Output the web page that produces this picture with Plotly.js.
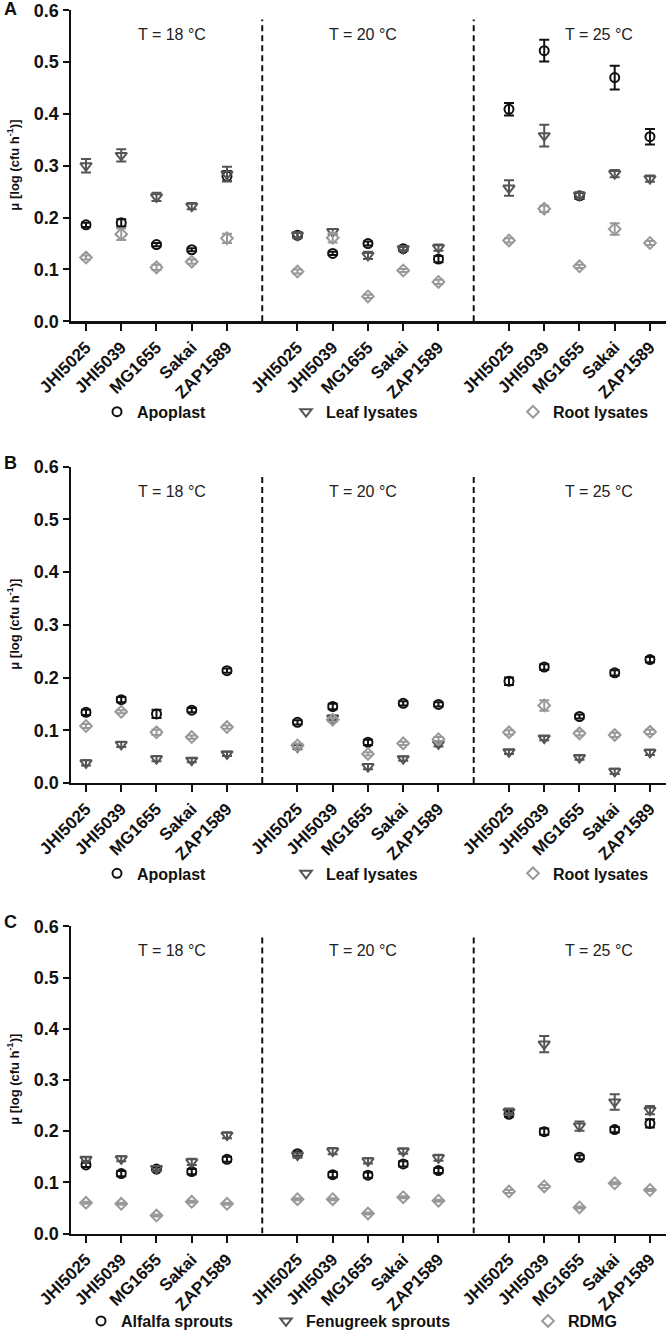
<!DOCTYPE html>
<html>
<head>
<meta charset="utf-8">
<script src="https://cdn.plot.ly/plotly-3.0.1.min.js"></script>
<style>
  html, body { margin: 0; padding: 0; background: #fff; }
  #myDiv { width: 666px; height: 1338px; }
</style>
</head>
<body>
<div id="myDiv"></div>
<script>
let strains = ['JHI5025', 'JHI5039', 'MG1655', 'Sakai', 'ZAP1589'];
let temps = ['T = 18 °C', 'T = 20 °C', 'T = 25 °C'];
let panelLetters = ['A', 'B', 'C'];
let yTicks = [0, 0.1, 0.2, 0.3, 0.4, 0.5, 0.6];

// panel A (18, 20, 25 °C, 5 strains each)
let apoplastA = [0.186, 0.190, 0.148, 0.138, 0.280, 0.166, 0.131, 0.150, 0.140, 0.120, 0.409, 0.522, 0.242, 0.470, 0.356];
let apoplastAErr = [0.004, 0.007, 0.003, 0.003, 0.010, 0.005, 0.003, 0.004, 0.004, 0.006, 0.012, 0.021, 0.006, 0.023, 0.015];
let leafA = [0.300, 0.320, 0.240, 0.222, 0.284, 0.166, 0.173, 0.127, 0.140, 0.142, 0.257, 0.358, 0.243, 0.285, 0.275];
let leafAErr = [0.013, 0.012, 0.008, 0.006, 0.014, 0.006, 0.005, 0.007, 0.004, 0.006, 0.015, 0.021, 0.006, 0.007, 0.006];
let rootA = [0.123, 0.168, 0.104, 0.115, 0.160, 0.096, 0.161, 0.048, 0.098, 0.076, 0.156, 0.217, 0.106, 0.178, 0.151];
let rootAErr = [0.004, 0.011, 0.005, 0.004, 0.009, 0.004, 0.009, 0.003, 0.003, 0.004, 0.004, 0.006, 0.003, 0.011, 0.004];

// panel B
let apoplastB = [0.134, 0.158, 0.131, 0.138, 0.213, 0.115, 0.145, 0.077, 0.151, 0.149, 0.193, 0.220, 0.126, 0.209, 0.234];
let apoplastBErr = [0.005, 0.005, 0.008, 0.004, 0.004, 0.004, 0.005, 0.005, 0.004, 0.004, 0.007, 0.005, 0.004, 0.005, 0.005];
let leafB = [0.038, 0.073, 0.046, 0.043, 0.055, 0.068, 0.123, 0.031, 0.046, 0.074, 0.059, 0.085, 0.048, 0.022, 0.058];
let leafBErr = [0.005, 0.005, 0.005, 0.004, 0.004, 0.004, 0.005, 0.005, 0.004, 0.005, 0.004, 0.004, 0.004, 0.005, 0.005];
let rootB = [0.108, 0.135, 0.096, 0.087, 0.106, 0.071, 0.120, 0.055, 0.075, 0.083, 0.096, 0.147, 0.094, 0.091, 0.097];
let rootBErr = [0.004, 0.003, 0.005, 0.003, 0.003, 0.004, 0.004, 0.003, 0.003, 0.004, 0.004, 0.010, 0.004, 0.004, 0.004];

// panel C
let alfalfaC = [0.134, 0.117, 0.126, 0.121, 0.145, 0.156, 0.115, 0.114, 0.136, 0.123, 0.233, 0.199, 0.149, 0.203, 0.215];
let alfalfaCErr = [0.004, 0.005, 0.003, 0.005, 0.005, 0.004, 0.005, 0.005, 0.005, 0.005, 0.005, 0.006, 0.004, 0.005, 0.008];
let fenugreekC = [0.145, 0.146, 0.127, 0.140, 0.192, 0.153, 0.161, 0.142, 0.161, 0.148, 0.238, 0.370, 0.210, 0.257, 0.241];
let fenugreekCErr = [0.004, 0.005, 0.005, 0.006, 0.006, 0.005, 0.006, 0.005, 0.005, 0.006, 0.006, 0.016, 0.009, 0.015, 0.008];
let rdmgC = [0.060, 0.058, 0.035, 0.062, 0.058, 0.067, 0.067, 0.039, 0.071, 0.064, 0.082, 0.092, 0.051, 0.098, 0.085];
let rdmgCErr = [0.002, 0.002, 0.002, 0.002, 0.002, 0.002, 0.002, 0.002, 0.002, 0.002, 0.003, 0.003, 0.002, 0.002, 0.002];

let FONT = 'Arial, "Liberation Sans", sans-serif';

// x position of every strain inside each temperature group (one empty slot between groups)
let xPos = [];
let tickVals = [];
let tickText = [];
temps.forEach((t, g) => {
    strains.forEach((s, i) => {
        xPos.push(g * 6 + i);
        tickVals.push(g * 6 + i);
        tickText.push(s);
    });
});

let styles = [
    { symbol: 'circle-open', color: '#111111', size: 9 },
    { symbol: 'triangle-down-open', color: '#555555', size: 10 },
    { symbol: 'diamond-open', color: '#999999', size: 9 }
];

let panels = [
    { names: ['Apoplast', 'Leaf lysates', 'Root lysates'], ys: [apoplastA, leafA, rootA], errs: [apoplastAErr, leafAErr, rootAErr] },
    { names: ['Apoplast', 'Leaf lysates', 'Root lysates'], ys: [apoplastB, leafB, rootB], errs: [apoplastBErr, leafBErr, rootBErr] },
    { names: ['Alfalfa sprouts', 'Fenugreek sprouts', 'RDMG'], ys: [alfalfaC, fenugreekC, rdmgC], errs: [alfalfaCErr, fenugreekCErr, rdmgCErr] }
];

// pixel layout of each panel (top = 0.6 tick, bottom = 0.0 axis) and legend row
let H = 1338, W = 666, L = 71;
let PW = W - L;
let px2x = px => (px - L) / PW;
let px2y = py => 1 - py / H;
let panelPx = [[10, 323, 414], [469, 787, 878], [931, 1240, 1328]];
let letterPx = [9, 465, 927];
let legendXpx = [[97, 286, 513], [97, 286, 513], [81, 266, 528]];

let data = [];
let layout = {
    width: W,
    height: H,
    margin: { l: L, r: 0, t: 0, b: 0 },
    showlegend: true,
    plot_bgcolor: '#fff',
    paper_bgcolor: '#fff',
    font: { family: FONT, color: '#111' },
    shapes: [],
    annotations: []
};

panels.forEach((p, k) => {
    let xa = k === 0 ? 'x' : 'x' + (k + 1);
    let ya = k === 0 ? 'y' : 'y' + (k + 1);
    let top = px2y(panelPx[k][0]);
    let bottom = px2y(panelPx[k][1]);

    p.names.forEach((name, s) => {
        let legName = 'legend' + (k * 3 + s === 0 ? '' : (k * 3 + s + 1));
        data.push({
            x: xPos,
            y: p.ys[s],
            xaxis: xa,
            yaxis: ya,
            name: name,
            legend: legName,
            type: 'scatter',
            mode: 'markers',
            marker: { symbol: styles[s].symbol, size: styles[s].size, color: styles[s].color, line: { width: 2, color: styles[s].color } },
            error_y: { type: 'data', array: p.errs[s], visible: true, color: styles[s].color, thickness: 2, width: 5 }
        });
        layout[legName] = {
            x: px2x(legendXpx[k][s]),
            y: px2y(panelPx[k][2]),
            xanchor: 'left',
            yanchor: 'middle',
            orientation: 'h',
            bgcolor: 'rgba(0,0,0,0)',
            font: { family: FONT, size: 16, weight: 'bold', color: '#111' }
        };
    });

    layout['xaxis' + (k === 0 ? '' : k + 1)] = {
        domain: [0, 1],
        anchor: ya,
        range: [-0.4255, 16.455],
        tickvals: tickVals,
        ticktext: tickText,
        tickangle: -45,
        ticks: 'outside',
        ticklen: 7,
        tickwidth: 2,
        tickcolor: '#111',
        showline: true,
        linewidth: 2.5,
        linecolor: '#111',
        showgrid: false,
        zeroline: false,
        tickfont: { family: FONT, size: 17, weight: 'bold', color: '#111' }
    };
    layout['yaxis' + (k === 0 ? '' : k + 1)] = {
        domain: [bottom, top],
        anchor: xa,
        range: [0, 0.6005],
        tickvals: yTicks,
        ticktext: yTicks.map(v => v.toFixed(1)),
        ticklabeloverflow: 'allow',
        ticks: 'outside',
        ticklen: 6,
        tickwidth: 2,
        tickcolor: '#111',
        showline: true,
        linewidth: 2.5,
        linecolor: '#111',
        showgrid: false,
        zeroline: false,
        tickfont: { family: FONT, size: 18, weight: 'bold', color: '#111' }
    };

    // dashed separators between temperature groups
    [5, 11].forEach(xv => {
        layout.shapes.push({
            type: 'line', xref: xa, yref: ya, x0: xv, x1: xv, y0: 0, y1: 0.582,
            line: { color: '#111', width: 2, dash: '6px,4px' }
        });
    });

    // temperature labels
    [2.45, 7.87, 14.55].forEach((xv, g) => {
        layout.annotations.push({
            xref: xa, yref: ya, x: xv, y: 0.553, text: temps[g], showarrow: false,
            font: { family: FONT, size: 16, color: '#222' }
        });
    });

    layout.annotations.push({
        xref: 'paper', yref: 'paper', x: px2x(10), y: px2y(letterPx[k]), xanchor: 'center', yanchor: 'middle',
        text: panelLetters[k], showarrow: false,
        font: { family: FONT, size: 18, weight: 'bold', color: '#111' }
    });
    layout.annotations.push({
        xref: 'paper', yref: 'paper', x: px2x(13), y: (top + bottom) / 2, xanchor: 'center', yanchor: 'middle',
        text: 'μ [log (cfu h<sup>-1</sup>)]', textangle: -90, showarrow: false,
        font: { family: FONT, size: 13, weight: 'bold', color: '#111' }
    });
});

Plotly.newPlot('myDiv', data, layout, { staticPlot: true });
</script>
</body>
</html>
